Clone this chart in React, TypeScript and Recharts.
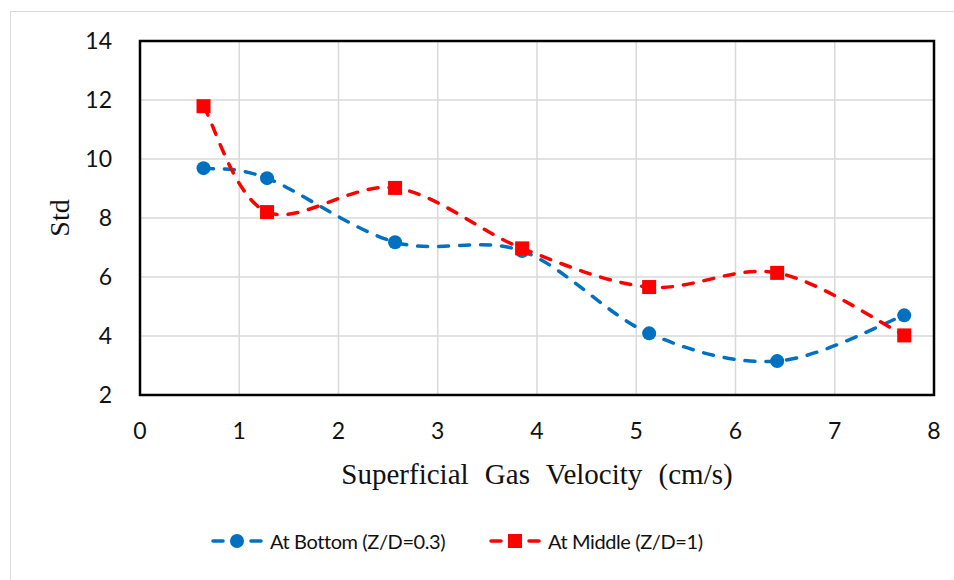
import React from "react";
import { CartesianGrid, Legend, Line, LineChart, ReferenceArea, XAxis, YAxis } from "recharts";

const velocity = [0.64, 1.28, 2.57, 3.85, 5.13, 6.42, 7.7];
const atBottom = [9.69, 9.35, 7.18, 6.88, 4.09, 3.15, 4.7];
const atMiddle = [11.79, 8.2, 9.02, 6.97, 5.66, 6.14, 4.02];
const xTicks = [0, 1, 2, 3, 4, 5, 6, 7, 8];
const yTicks = [2, 4, 6, 8, 10, 12, 14];

const BLUE = "#0070C0";
const RED = "#FF0000";
const TICK_FONT = "Lato, 'Open Sans', sans-serif";
const TITLE_FONT = "'Liberation Serif', 'DejaVu Serif', serif";

const data = velocity.map((v, i) => ({ v, bottom: atBottom[i], middle: atMiddle[i] }));

// Excel-style smoothed line (Catmull-Rom through the points)
function excelSmooth(context: any) {
  let pts: [number, number][] = [];
  return {
    areaStart() {},
    areaEnd() {},
    lineStart() {
      pts = [];
    },
    point(x: number, y: number) {
      pts.push([+x, +y]);
    },
    lineEnd() {
      if (!pts.length) return;
      context.moveTo(pts[0][0], pts[0][1]);
      for (let i = 0; i < pts.length - 1; i++) {
        const p0 = pts[i - 1] ?? pts[i];
        const p1 = pts[i];
        const p2 = pts[i + 1];
        const p3 = pts[i + 2] ?? pts[i + 1];
        context.bezierCurveTo(
          p1[0] + (p2[0] - p0[0]) / 6,
          p1[1] + (p2[1] - p0[1]) / 6,
          p2[0] - (p3[0] - p1[0]) / 6,
          p2[1] - (p3[1] - p1[1]) / 6,
          p2[0],
          p2[1]
        );
      }
    },
  };
}

const SquareDot = (props: any) => {
  const { cx, cy } = props;
  if (cx == null || cy == null) return null;
  return <rect x={cx - 7} y={cy - 7} width={14} height={14} fill={RED} />;
};

const LegendIcon = ({ color, square }: { color: string; square?: boolean }) => (
  <svg width={52} height={16} style={{ display: "block" }}>
    <line x1={2} y1={8} x2={12} y2={8} stroke={color} strokeWidth={3.5} strokeLinecap="round" />
    <line x1={40} y1={8} x2={50} y2={8} stroke={color} strokeWidth={3.5} strokeLinecap="round" />
    {square ? (
      <rect x={19} y={1} width={14} height={14} fill={color} />
    ) : (
      <circle cx={26} cy={8} r={7} fill={color} />
    )}
  </svg>
);

const renderLegend = () => (
  <div style={{ position: "relative", width: 954, height: 30, fontFamily: TICK_FONT, fontSize: 20, letterSpacing: -0.4, color: "#111" }}>
    <div style={{ position: "absolute", left: 211, top: 0, display: "flex", alignItems: "center", gap: 7 }}>
      <LegendIcon color={BLUE} />
      <span>At Bottom (Z/D=0.3)</span>
    </div>
    <div style={{ position: "absolute", left: 489, top: 0, display: "flex", alignItems: "center", gap: 7 }}>
      <LegendIcon color={RED} square />
      <span>At Middle (Z/D=1)</span>
    </div>
  </div>
);

export default function App() {
  return (
    <div style={{ position: "absolute", left: 0, top: 0, width: 954, height: 580, overflow: "hidden", background: "#fff" }}>
      <div
        style={{
          position: "absolute",
          left: 10,
          top: 11,
          width: 960,
          height: 600,
          border: "1.5px solid #d9d9d9",
        }}
      />
      <LineChart
        width={954}
        height={580}
        data={data}
        margin={{ top: 41, right: 20, bottom: 125, left: 80 }}
        style={{ position: "absolute", left: 0, top: 0 }}
      >
        <CartesianGrid stroke="#d9d9d9" strokeWidth={1.5} />
        <XAxis
          dataKey="v"
          type="number"
          domain={[0, 8]}
          ticks={xTicks}
          height={30}
          axisLine={false}
          tickLine={false}
          tickMargin={22}
          tick={{ fontFamily: TICK_FONT, fontSize: 23, fill: "#111" }}
          label={(p: any) => {
            const vb = p.viewBox;
            return (
              <text
                x={vb.x + vb.width / 2}
                y={484}
                textAnchor="middle"
                fontFamily={TITLE_FONT}
                fontSize={29}
                fill="#111"
                wordSpacing={9}
              >
                Superficial Gas Velocity (cm/s)
              </text>
            );
          }}
        />
        <YAxis
          type="number"
          domain={[2, 14]}
          ticks={yTicks}
          width={60}
          axisLine={false}
          tickLine={false}
          tickMargin={22}
          tick={{ fontFamily: TICK_FONT, fontSize: 23, fill: "#111" }}
          label={(p: any) => {
            const vb = p.viewBox;
            const cy = vb.y + vb.height / 2;
            return (
              <text
                x={69}
                y={cy}
                textAnchor="middle"
                transform={`rotate(-90 69 ${cy})`}
                fontFamily={TITLE_FONT}
                fontSize={28}
                fill="#111"
              >
                Std
              </text>
            );
          }}
        />
        <ReferenceArea x1={0} x2={8} y1={2} y2={14} fill="none" stroke="#000" strokeWidth={2.5} />
        <Line
          dataKey="bottom"
          type={excelSmooth as any}
          stroke={BLUE}
          strokeWidth={3.5}
          strokeDasharray="10 11"
          strokeLinecap="round"
          dot={{ r: 7, fill: BLUE, stroke: "none" }}
          activeDot={false}
          isAnimationActive={false}
        />
        <Line
          dataKey="middle"
          type={excelSmooth as any}
          stroke={RED}
          strokeWidth={3.5}
          strokeDasharray="10 11"
          strokeLinecap="round"
          dot={<SquareDot />}
          activeDot={false}
          isAnimationActive={false}
        />
        <Legend content={renderLegend} wrapperStyle={{ position: "absolute", left: 0, top: 529, width: 954 }} />
      </LineChart>
    </div>
  );
}
